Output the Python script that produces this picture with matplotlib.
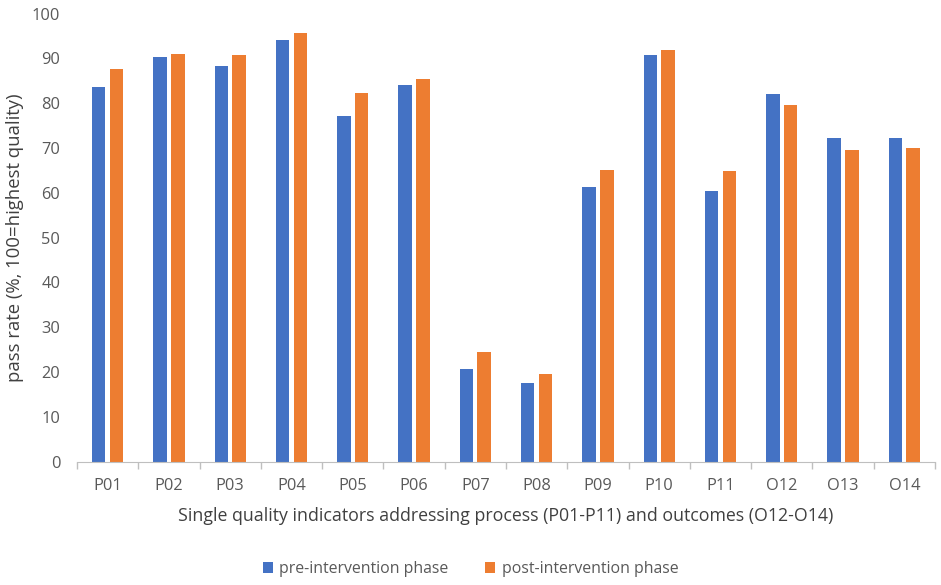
import matplotlib.pyplot as plt
import numpy as np

plt.rcParams['font.family'] = ['Open Sans', 'DejaVu Sans']

categories = ['P01', 'P02', 'P03', 'P04', 'P05', 'P06', 'P07', 'P08', 'P09', 'P10',
              'P11', 'O12', 'O13', 'O14']
pre = [83.7, 90.3, 88.3, 94.1, 77.1, 84.0, 20.6, 17.6, 61.3, 90.7, 60.5, 82.0, 72.3, 72.3]
post = [87.7, 90.9, 90.7, 95.7, 82.3, 85.5, 24.5, 19.5, 65.1, 91.8, 64.9, 79.7, 69.6, 69.9]

blue = '#4472C4'
orange = '#ED7D31'
txt = '#595959'

fig = plt.figure(figsize=(9.41, 5.85), dpi=100)
ax = fig.add_axes([0.0818, 0.2108, 0.9118, 0.766])

x = np.arange(len(categories))
w = 0.22
ax.bar(x - 0.145, pre, w, color=blue, label='pre-intervention phase')
ax.bar(x + 0.145, post, w, color=orange, label='post-intervention phase')

ax.set_xlim(-0.5, len(categories) - 0.5)
ax.set_ylim(0, 100)
ax.set_yticks(range(0, 101, 10))
ax.set_xticks(x)
ax.set_xticklabels(categories)
ax.set_xticks(np.arange(-0.5, len(categories), 1), minor=True)
ax.tick_params(axis='x', which='major', length=0, pad=12, labelsize=11.8, labelcolor=txt)
ax.tick_params(axis='x', which='minor', length=5, color='#BFBFBF', width=1)
ax.tick_params(axis='y', length=0, pad=12, labelsize=11.8, labelcolor=txt)

for s in ['top', 'right', 'left']:
    ax.spines[s].set_visible(False)
ax.spines['bottom'].set_color('#BFBFBF')

ax.set_ylabel('pass rate (%, 100=highest quality)', fontsize=13.3, color='#404040', labelpad=6)
ax.set_xlabel('Single quality indicators addressing process (P01-P11) and outcomes (O12-O14)',
              fontsize=12.8, color='#404040', labelpad=9)

fig.legend(loc='center', bbox_to_anchor=(0.5, 1 - 569 / 585), ncol=2, frameon=False,
           fontsize=11.4, handlelength=0.65, handleheight=0.65, handletextpad=0.4,
           columnspacing=2.3, labelcolor=txt)

fig.savefig('out.png', dpi=100)
